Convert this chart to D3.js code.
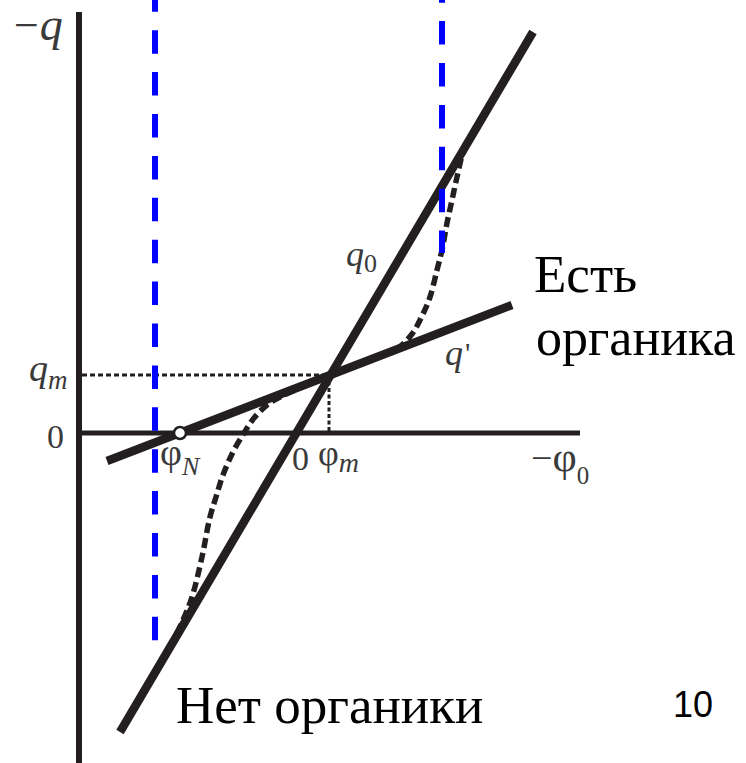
<!DOCTYPE html>
<html><head><meta charset="utf-8">
<script src="https://cdn.jsdelivr.net/npm/d3@7"></script>
<style>html,body{margin:0;padding:0;background:#fff;}svg{display:block;}</style>
</head><body>
<svg id="c" width="746" height="763"></svg>
<script>
// ---- data (chart units: x = -φ0, y = -q) ----
const xDomain = [-2.17, 2.84];
const yDomain = [-3.3, 4.21];
const phiN = -1.16, phiM = 0.33, qM = 0.58;
const q0Line = [[-1.76, -2.99], [2.37, 4.01]];
const qPrimeLine = [[-1.89, -0.28], [2.16, 1.28]];
const blueLines = [{x: -1.41, y0: 4.33, y1: -2.08, phase: 11.7}, {x: 1.46, y0: 4.33, y1: 1.80, phase: 20.8}];
const curveX = [-1.33,-1.23,-1.13,-1.04,-0.94,-0.86,-0.80,-0.73,-0.63,-0.52,-0.42,-0.29,-0.16,0.04,0.33,0.74,1.02,1.16,1.26,1.34,1.41,1.46,1.51,1.56,1.61,1.67,1.75,1.85,1.94];
const curveY = [-2.27,-2.08,-1.87,-1.64,-1.24,-0.84,-0.64,-0.42,-0.19,0.00,0.15,0.28,0.36,0.45,0.57,0.73,0.85,0.99,1.17,1.36,1.63,1.83,2.10,2.33,2.56,2.80,2.96,3.13,3.27];

const svg = d3.select("#c");
const x = d3.scaleLinear().domain(xDomain).range([79, 580]);
const y = d3.scaleLinear().domain(yDomain).range([763, 12]);
const ink = "#231f20", lab = "#3a3a3a";
const line = d3.line().x(d => x(d[0])).y(d => y(d[1]));

// axes
svg.append("line").attr("x1", x(xDomain[0])).attr("x2", x(xDomain[0])).attr("y1", y(yDomain[1])).attr("y2", 763)
  .attr("stroke", ink).attr("stroke-width", 6);
svg.append("line").attr("x1", x(xDomain[0])).attr("x2", x(xDomain[1])).attr("y1", y(0)).attr("y2", y(0))
  .attr("stroke", ink).attr("stroke-width", 5);

// dotted q_m guides
svg.append("line").attr("x1", x(xDomain[0]) + 3).attr("x2", x(phiM)).attr("y1", y(qM)).attr("y2", y(qM))
  .attr("stroke", ink).attr("stroke-width", 3).attr("stroke-dasharray", "5,3");
svg.append("line").attr("x1", x(phiM)).attr("x2", x(phiM)).attr("y1", y(qM)).attr("y2", y(0))
  .attr("stroke", ink).attr("stroke-width", 3).attr("stroke-dasharray", "4,2.5");

// dashed S-curve
const curvePts = curveX.map((v, i) => [v, curveY[i]]);
svg.append("path").attr("d", d3.line().x(d => x(d[0])).y(d => y(d[1])).curve(d3.curveCatmullRom.alpha(0.5))(curvePts))
  .attr("fill", "none").attr("stroke", ink).attr("stroke-width", 5.5).attr("stroke-dasharray", "10,5");

// q0 and q'
svg.append("path").attr("d", line(q0Line)).attr("stroke", ink).attr("stroke-width", 8.5).attr("fill", "none");
svg.append("path").attr("d", line(qPrimeLine)).attr("stroke", ink).attr("stroke-width", 8.5).attr("fill", "none");

// phi_N point
svg.append("circle").attr("cx", x(phiN)).attr("cy", y(0)).attr("r", 6)
  .attr("fill", "#fff").attr("stroke", ink).attr("stroke-width", 2.5);

// blue dashed verticals
blueLines.forEach(b => {
  svg.append("line").attr("x1", x(b.x)).attr("x2", x(b.x)).attr("y1", y(b.y0)).attr("y2", y(b.y1))
    .attr("stroke", "#0000ff").attr("stroke-width", 6)
    .attr("stroke-dasharray", "23.5,18.4").attr("stroke-dashoffset", b.phase);
});

// labels
const serif = "Liberation Serif";
function mathLabel(px, py, parts) {
  const t = svg.append("text").attr("x", px).attr("y", py).attr("font-family", serif).attr("fill", lab);
  parts.forEach(p => {
    const s = t.append("tspan").text(p.t).attr("font-size", p.fs);
    if (p.it) s.attr("font-style", "italic");
    if (p.dy) s.attr("dy", p.dy);
    if (p.dx) s.attr("dx", p.dx);
  });
  return t;
}
mathLabel(14, 40, [{t: "−", fs: 44}, {t: "q", fs: 46, it: true, dx: 1}]);
mathLabel(29, y(qM) + 6, [{t: "q", fs: 38, it: true}, {t: "m", fs: 27, it: true, dy: 8}]);
mathLabel(47, y(0) + 15, [{t: "0", fs: 34}]);
mathLabel(x(phiN) - 20, y(0) + 32, [{t: "φ", fs: 38}, {t: "N", fs: 26, it: true, dy: 10}]);
mathLabel(x(0) - 4, y(0) + 37, [{t: "0", fs: 34}]);
mathLabel(x(phiM) - 11, y(0) + 32, [{t: "φ", fs: 36}, {t: "m", fs: 28, it: true, dy: 7}]);
mathLabel(531, y(0) + 38, [{t: "−", fs: 38}, {t: "φ", fs: 42}, {t: "0", fs: 25, dy: 13}]);
mathLabel(346, 266, [{t: "q", fs: 36, it: true}, {t: "0", fs: 26, dy: 6}]);
mathLabel(445, 365, [{t: "q", fs: 36, it: true}, {t: "'", fs: 30, dy: -2, dx: 2}]);

svg.append("text").attr("x", 534).attr("y", 292).attr("font-family", serif).attr("font-size", 53).attr("fill", "#000").text("Есть");
svg.append("text").attr("x", 536).attr("y", 355).attr("font-family", serif).attr("font-size", 52).attr("fill", "#000").text("органика");
svg.append("text").attr("x", 176).attr("y", 723).attr("font-family", serif).attr("font-size", 53).attr("fill", "#000").text("Нет органики");
svg.append("text").attr("x", 673).attr("y", 717).attr("font-family", "Liberation Sans").attr("font-size", 36).attr("fill", "#000").text("10");
</script>
</body></html>
